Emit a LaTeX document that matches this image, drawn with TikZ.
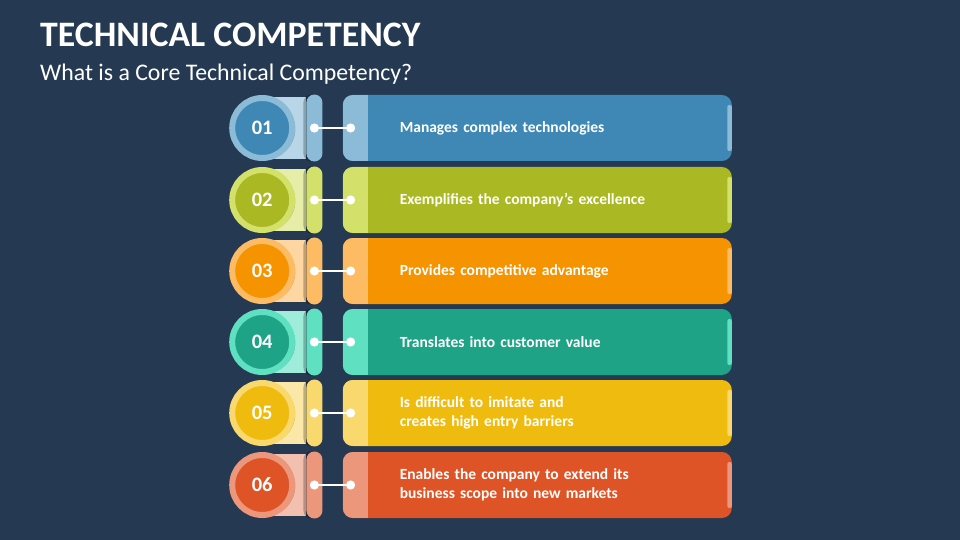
\documentclass[tikz,border=0pt]{standalone}
\usepackage{fontspec}
\setmainfont{Carlito}
\usetikzlibrary{arrows.meta,positioning,shadows}
\definecolor{bgblue}{HTML}{253A52}
\definecolor{darkA}{HTML}{3F88B5}\definecolor{lightA}{HTML}{8BBBD6}\definecolor{paleA}{HTML}{B8D6E8}
\definecolor{darkB}{HTML}{AAB823}\definecolor{lightB}{HTML}{D3E06A}\definecolor{paleB}{HTML}{E5EDA8}
\definecolor{darkC}{HTML}{F59300}\definecolor{lightC}{HTML}{FDBB63}\definecolor{paleC}{HTML}{FED6A1}
\definecolor{darkD}{HTML}{1EA386}\definecolor{lightD}{HTML}{5EE0C1}\definecolor{paleD}{HTML}{9EECD9}
\definecolor{darkE}{HTML}{F0BB0F}\definecolor{lightE}{HTML}{F9D86E}\definecolor{paleE}{HTML}{FBE8A8}
\definecolor{darkF}{HTML}{DF5427}\definecolor{lightF}{HTML}{EC977C}\definecolor{paleF}{HTML}{F3C0AF}
\tikzset{
    %Define standard arrow tip
    >={Circle[length=9pt]},
    %Define style for the numbered rings
    ring/.style={
           circle,
           line width=6pt,
           minimum size=60pt,
           inner sep=0pt,
           text=white,
           font=\bfseries\fontsize{20.5}{20.5}\selectfont,
           drop shadow={shadow xshift=3pt, shadow yshift=-1pt, opacity=0.3, fill=black}},
    % Define style for the pale band behind a ring
    backing/.style={
           rectangle,
           minimum width=56pt,
           minimum height=62pt,
           inner sep=0pt},
    % Define style for the small pills
    pill/.style={
           rectangle,
           rounded corners=8pt,
           minimum width=16pt,
           minimum height=67pt,
           inner sep=0pt,
           drop shadow={shadow xshift=-3pt, shadow yshift=0pt, opacity=0.25, fill=black}},
    % Define style for the text boxes
    itembox/.style={
           rectangle,
           rounded corners=10pt,
           minimum height=66pt,
           text width=275pt,
           inner xsep=57pt,
           inner ysep=0pt,
           align=left,
           text=white,
           font=\bfseries\fontsize{15.5}{19}\selectfont,
           path picture={
               \fill[#1, sharp corners] (path picture bounding box.north west) rectangle ([xshift=25pt]path picture bounding box.south west);
               \fill[#1, rounded corners=2pt] ([xshift=-4.5pt,yshift=-10pt]path picture bounding box.north east) rectangle ([yshift=10pt]path picture bounding box.south east);}},
    % Define connector style
    dotlink/.style={
           <->,
           white,
           line width=2.5pt,
           shorten <=-4.5pt,
           shorten >=-4.5pt,},
}
\begin{document}
\begin{tikzpicture}[x=1pt, y=-1pt]
    \useasboundingbox (0,0) rectangle (960,540);
    \fill[bgblue] (0,0) rectangle (960,540);
 %titles
    \node[anchor=base west, inner sep=0pt, text=white, font=\bfseries\fontsize{35.8}{35.8}\selectfont] (title) at (40,47) {TECHNICAL COMPETENCY};
    \node[anchor=base west, inner sep=0pt, text=white, font=\fontsize{23.8}{23.8}\selectfont] (subtitle) at (40,81) {What is a Core Technical Competency?};
 %row 1
    \node[backing, fill=paleA] (back1) at (278,128) {};
    \node[pill, fill=lightA, right=0pt of back1] (pill1) {};
    \node[ring, fill=darkA, draw=lightA, left=11pt of pill1] (num1) {01};
    \node[itembox=lightA, fill=darkA, right=20pt of pill1] (box1) {Manages complex technologies};
    \coordinate (tip1) at ([xshift=8pt]box1.west);
    \draw[dotlink] (pill1.center) -- (tip1);
 %row 2
    \node[backing, fill=paleB] (back2) at (278,200) {};
    \node[pill, fill=lightB, right=0pt of back2] (pill2) {};
    \node[ring, fill=darkB, draw=lightB, left=11pt of pill2] (num2) {02};
    \node[itembox=lightB, fill=darkB, right=20pt of pill2] (box2) {Exemplifies the company’s excellence};
    \coordinate (tip2) at ([xshift=8pt]box2.west);
    \draw[dotlink] (pill2.center) -- (tip2);
 %row 3
    \node[backing, fill=paleC] (back3) at (278,271) {};
    \node[pill, fill=lightC, right=0pt of back3] (pill3) {};
    \node[ring, fill=darkC, draw=lightC, left=11pt of pill3] (num3) {03};
    \node[itembox=lightC, fill=darkC, right=20pt of pill3] (box3) {Provides competitive advantage};
    \coordinate (tip3) at ([xshift=8pt]box3.west);
    \draw[dotlink] (pill3.center) -- (tip3);
 %row 4
    \node[backing, fill=paleD] (back4) at (278,342) {};
    \node[pill, fill=lightD, right=0pt of back4] (pill4) {};
    \node[ring, fill=darkD, draw=lightD, left=11pt of pill4] (num4) {04};
    \node[itembox=lightD, fill=darkD, right=20pt of pill4] (box4) {Translates into customer value};
    \coordinate (tip4) at ([xshift=8pt]box4.west);
    \draw[dotlink] (pill4.center) -- (tip4);
 %row 5
    \node[backing, fill=paleE] (back5) at (278,413) {};
    \node[pill, fill=lightE, right=0pt of back5] (pill5) {};
    \node[ring, fill=darkE, draw=lightE, left=11pt of pill5] (num5) {05};
    \node[itembox=lightE, fill=darkE, right=20pt of pill5] (box5) {Is difficult to imitate and\\creates high entry barriers};
    \coordinate (tip5) at ([xshift=8pt]box5.west);
    \draw[dotlink] (pill5.center) -- (tip5);
 %row 6
    \node[backing, fill=paleF] (back6) at (278,485) {};
    \node[pill, fill=lightF, right=0pt of back6] (pill6) {};
    \node[ring, fill=darkF, draw=lightF, left=11pt of pill6] (num6) {06};
    \node[itembox=lightF, fill=darkF, right=20pt of pill6] (box6) {Enables the company to extend its\\business scope into new markets};
    \coordinate (tip6) at ([xshift=8pt]box6.west);
    \draw[dotlink] (pill6.center) -- (tip6);
\end{tikzpicture}
\end{document}
